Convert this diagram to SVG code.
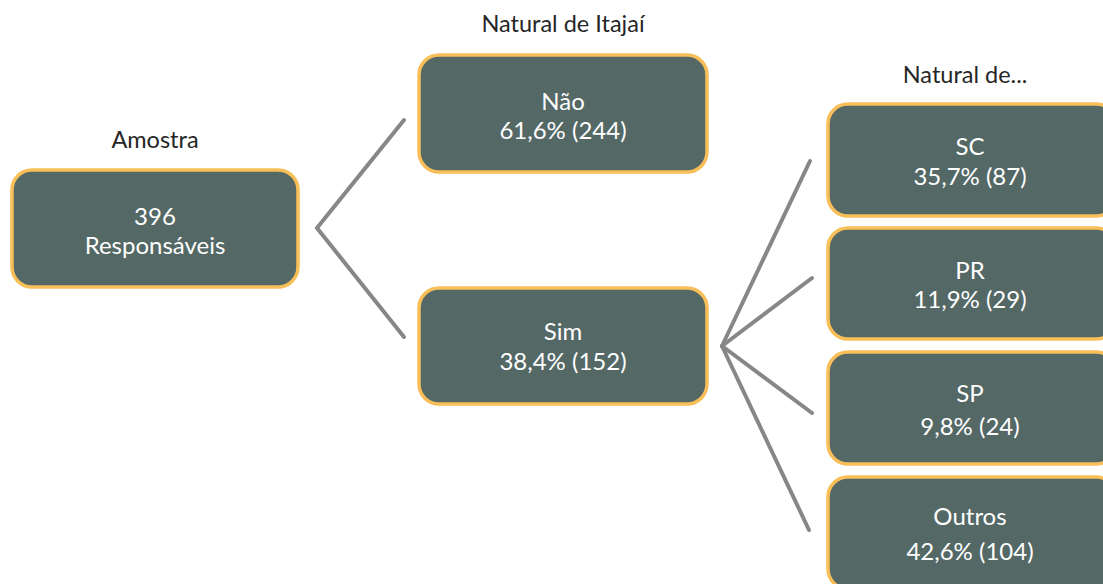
<svg xmlns="http://www.w3.org/2000/svg" width="1103" height="584" viewBox="0 0 1103 584">
<style>
.box{fill:#546866;stroke:#F8BF58;stroke-width:3.5}
.t{font-family:Lato,"Open Sans","Liberation Sans",sans-serif;font-size:24px;fill:#FFFFFF;text-anchor:middle}
.h{font-family:Lato,"Open Sans","Liberation Sans",sans-serif;font-size:23.5px;fill:#262626;text-anchor:middle}
.c{fill:none;stroke:#878787;stroke-width:4;stroke-linecap:round;stroke-linejoin:miter}
</style>
<rect width="1103" height="584" fill="#FFFFFF"/>
<g id="headers">
<text class="h" x="155" y="148">Amostra</text>
<text class="h" x="563" y="32">Natural de Itajaí</text>
<text class="h" x="965" y="83">Natural de...</text>
</g>
<g id="connectors">
<polyline class="c" points="404,120 317,228 404,337"/>
<line class="c" x1="722" y1="346" x2="810" y2="161"/>
<line class="c" x1="722" y1="346" x2="812" y2="278"/>
<line class="c" x1="722" y1="346" x2="812" y2="413"/>
<line class="c" x1="722" y1="346" x2="809" y2="530"/>
</g>
<g id="node-amostra">
<rect class="box" x="12" y="170" width="286" height="117" rx="20"/>
<text class="t" x="155" y="225">396</text>
<text class="t" x="155" y="254">Responsáveis</text>
</g>
<g id="node-nao">
<rect class="box" x="419" y="55" width="288" height="117" rx="20"/>
<text class="t" x="563" y="110">Não</text>
<text class="t" x="563" y="139">61,6% (244)</text>
</g>
<g id="node-sim">
<rect class="box" x="419" y="288" width="288" height="116" rx="20"/>
<text class="t" x="563" y="340">Sim</text>
<text class="t" x="563" y="370">38,4% (152)</text>
</g>
<g id="node-sc">
<rect class="box" x="828" y="104" width="288" height="112" rx="20"/>
<text class="t" x="970" y="155">SC</text>
<text class="t" x="970" y="185">35,7% (87)</text>
</g>
<g id="node-pr">
<rect class="box" x="828" y="228" width="288" height="111" rx="20"/>
<text class="t" x="970" y="279">PR</text>
<text class="t" x="970" y="308">11,9% (29)</text>
</g>
<g id="node-sp">
<rect class="box" x="828" y="352" width="288" height="112" rx="20"/>
<text class="t" x="970" y="402">SP</text>
<text class="t" x="970" y="435">9,8% (24)</text>
</g>
<g id="node-outros">
<rect class="box" x="828" y="477" width="288" height="112" rx="20"/>
<text class="t" x="970" y="525">Outros</text>
<text class="t" x="970" y="560">42,6% (104)</text>
</g>
</svg>
